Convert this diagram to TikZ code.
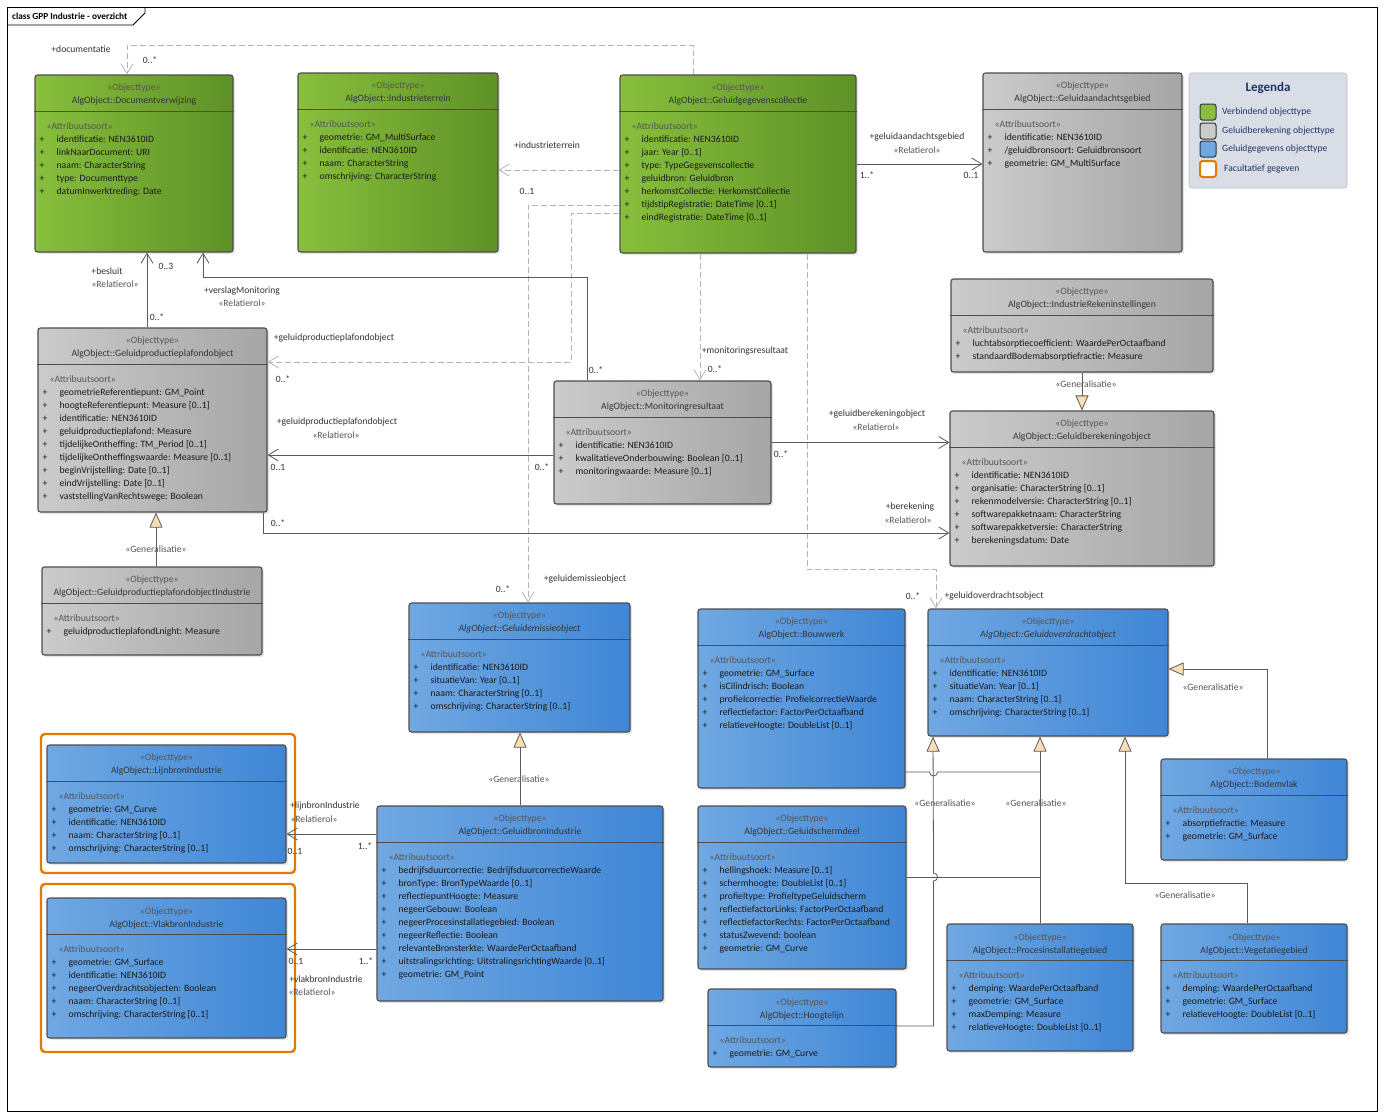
\documentclass[tikz,border=0pt]{standalone}
\usepackage{fontspec}
\setmainfont{Carlito}
\usetikzlibrary{arrows.meta,fit,shadows}
\definecolor{groenL}{HTML}{88BF3C}
\definecolor{groenR}{HTML}{5E9127}
\definecolor{grijsL}{HTML}{CBCBCB}
\definecolor{grijsR}{HTML}{A6A6A6}
\definecolor{blauwL}{HTML}{70A8E2}
\definecolor{blauwR}{HTML}{3F86D6}
\definecolor{rand}{HTML}{4D4D4D}
\definecolor{lijn}{HTML}{5A5A5A}
\definecolor{streep}{HTML}{B4B4B4}
\definecolor{genvul}{HTML}{FBDDB4}
\definecolor{oranje}{HTML}{E07B00}
\definecolor{legvul}{HTML}{D9DDE6}
\definecolor{legtekst}{HTML}{1F3468}
\definecolor{stereokleur}{HTML}{555555}
\newcommand{\stereo}[1]{\textcolor{stereokleur}{#1}}
\newcommand{\klasse}[6]{%
  \node[#1, fit={#3 #4}] (#2) {};
  \draw[kopstreep] ([yshift=-37pt]#2.north west) -- ([yshift=-37pt]#2.north east);
  \node[kop] (#2-kop) at ([yshift=-20.5pt]#2.north) {\stereo{«Objecttype»}\\#5};
  \node[attr] (#2-attr) at ([xshift=5pt,yshift=-45.5pt]#2.north west) {\begin{tabular}{@{}p{17pt}@{}l@{}}\multicolumn{2}{@{\hspace{7pt}}l@{}}{\stereo{«Attribuutsoort»}}\\#6\end{tabular}};
}

\begin{document}
\begin{tikzpicture}[x=1pt,y=-1pt,
  klasse/.style={draw=rand, line width=1.1pt, rounded corners=2.5pt, inner sep=0pt,
    drop shadow={shadow xshift=2pt,shadow yshift=-2pt,opacity=0.2}},
  groen/.style={klasse, left color=groenL, right color=groenR},
  grijs/.style={klasse, left color=grijsL, right color=grijsR},
  blauw/.style={klasse, left color=blauwL, right color=blauwR},
  kopstreep/.style={draw=rand, line width=1.3pt},
  kop/.style={align=center, inner sep=0pt, font=\fontsize{9.7}{13}\selectfont, text=black!80},
  attr/.style={anchor=north west, inner sep=0pt, font=\fontsize{9.7}{13}\selectfont, text=black!90},
  lbl/.style={inner sep=0pt, font=\fontsize{9.6}{12}\selectfont, text=black!80},
  rol/.style={lbl, text=stereokleur},
  assoc/.style={draw=lijn, line width=0.8pt, -{Straight Barb[length=10pt,width=12pt]}},
  afh/.style={draw=streep, line width=0.8pt, dash pattern=on 6pt off 3pt, -{Straight Barb[length=10pt,width=12pt]}},
  gen/.style={draw=lijn, line width=0.8pt, -{Triangle[length=15pt,width=13pt,fill=genvul]}},
  genlijn/.style={draw=lijn, line width=0.8pt},
  facultatief/.style={draw=oranje, line width=2.4pt, rounded corners=4pt, inner sep=0pt},
  swatch/.style={minimum size=16pt, inner sep=0pt, rounded corners=2.5pt, draw=black!80, line width=1pt},
  legitem/.style={anchor=west, inner sep=0pt, font=\fontsize{9.6}{12}\selectfont, text=legtekst}]
\useasboundingbox (0,0) rectangle (1383,1117);
\fill[white] (0,0) rectangle (1383,1117);
\draw[black, line width=0.8pt] (7,7) rectangle (1377,1111);
\draw[black, line width=0.8pt] (7,25) -- (133,25) -- (145,13) -- (145,7);
\node[anchor=west, inner sep=0pt, font=\fontsize{9.3}{11}\selectfont\bfseries] (titel) at (12,16) {class GPP Industrie - overzicht};

\node[facultatief, fit={(41,734) (295,873)}] (opt-lijnbron) {};
\node[facultatief, fit={(41,884) (295,1052)}] (opt-vlakbron) {};

\klasse{groen}{docverw}{(35,75)}{(233,252)}{AlgObject::Documentverwijzing}{+ & identificatie: NEN3610ID\\ + & linkNaarDocument: URI\\ + & naam: CharacterString\\ + & type: Documenttype\\ + & datumInwerktreding: Date}
\klasse{groen}{indterrein}{(298,73)}{(498,252)}{AlgObject::Industrieterrein}{+ & geometrie: GM\_MultiSurface\\ + & identificatie: NEN3610ID\\ + & naam: CharacterString\\ + & omschrijving: CharacterString}
\klasse{groen}{gegcoll}{(620,75)}{(856,253)}{AlgObject::Geluidgegevenscollectie}{+ & identificatie: NEN3610ID\\ + & jaar: Year [0..1]\\ + & type: TypeGegevenscollectie\\ + & geluidbron: Geluidbron\\ + & herkomstCollectie: HerkomstCollectie\\ + & tijdstipRegistratie: DateTime [0..1]\\ + & eindRegistratie: DateTime [0..1]}
\klasse{grijs}{aandacht}{(983,73)}{(1182,252)}{AlgObject::Geluidaandachtsgebied}{+ & identificatie: NEN3610ID\\ + & /geluidbronsoort: Geluidbronsoort\\ + & geometrie: GM\_MultiSurface}
\klasse{grijs}{gpp}{(38,328)}{(267,512)}{AlgObject::Geluidproductieplafondobject}{+ & geometrieReferentiepunt: GM\_Point\\ + & hoogteReferentiepunt: Measure [0..1]\\ + & identificatie: NEN3610ID\\ + & geluidproductieplafond: Measure\\ + & tijdelijkeOntheffing: TM\_Period [0..1]\\ + & tijdelijkeOntheffingswaarde: Measure [0..1]\\ + & beginVrijstelling: Date [0..1]\\ + & eindVrijstelling: Date [0..1]\\ + & vaststellingVanRechtswege: Boolean}
\klasse{grijs}{gppind}{(42,567)}{(262,655)}{AlgObject::GeluidproductieplafondobjectIndustrie}{+ & geluidproductieplafondLnight: Measure}
\klasse{grijs}{monitoring}{(554,381)}{(771,504)}{AlgObject::Monitoringresultaat}{+ & identificatie: NEN3610ID\\ + & kwalitatieveOnderbouwing: Boolean [0..1]\\ + & monitoringwaarde: Measure [0..1]}
\klasse{grijs}{rekeninst}{(951,279)}{(1213,372)}{AlgObject::IndustrieRekeninstellingen}{+ & luchtabsorptiecoefficient: WaardePerOctaafband\\ + & standaardBodemabsorptiefractie: Measure}
\klasse{grijs}{berekening}{(950,411)}{(1214,566)}{AlgObject::Geluidberekeningobject}{+ & identificatie: NEN3610ID\\ + & organisatie: CharacterString [0..1]\\ + & rekenmodelversie: CharacterString [0..1]\\ + & softwarepakketnaam: CharacterString\\ + & softwarepakketversie: CharacterString\\ + & berekeningsdatum: Date}
\klasse{blauw}{emissie}{(409,603)}{(630,732)}{\textit{AlgObject::Geluidemissieobject}}{+ & identificatie: NEN3610ID\\ + & situatieVan: Year [0..1]\\ + & naam: CharacterString [0..1]\\ + & omschrijving: CharacterString [0..1]}
\klasse{blauw}{bouwwerk}{(698,609)}{(905,788)}{AlgObject::Bouwwerk}{+ & geometrie: GM\_Surface\\ + & isCilindrisch: Boolean\\ + & profielcorrectie: ProfielcorrectieWaarde\\ + & reflectiefactor: FactorPerOctaafband\\ + & relatieveHoogte: DoubleList [0..1]}
\klasse{blauw}{overdracht}{(928,609)}{(1168,736)}{\textit{AlgObject::Geluidoverdrachtobject}}{+ & identificatie: NEN3610ID\\ + & situatieVan: Year [0..1]\\ + & naam: CharacterString [0..1]\\ + & omschrijving: CharacterString [0..1]}
\klasse{blauw}{bodemvlak}{(1161,759)}{(1347,860)}{AlgObject::Bodemvlak}{+ & absorptiefractie: Measure\\ + & geometrie: GM\_Surface}
\klasse{blauw}{scherm}{(698,806)}{(906,969)}{AlgObject::Geluidschermdeel}{+ & hellingshoek: Measure [0..1]\\ + & schermhoogte: DoubleList [0..1]\\ + & profieltype: ProfieltypeGeluidscherm\\ + & reflectiefactorLinks: FactorPerOctaafband\\ + & reflectiefactorRechts: FactorPerOctaafband\\ + & statusZwevend: boolean\\ + & geometrie: GM\_Curve}
\klasse{blauw}{hoogtelijn}{(708,989)}{(896,1067)}{AlgObject::Hoogtelijn}{+ & geometrie: GM\_Curve}
\klasse{blauw}{procinst}{(947,924)}{(1133,1051)}{AlgObject::Procesinstallatiegebied}{+ & demping: WaardePerOctaafband\\ + & geometrie: GM\_Surface\\ + & maxDemping: Measure\\ + & relatieveHoogte: DoubleList [0..1]}
\klasse{blauw}{vegetatie}{(1161,924)}{(1347,1033)}{AlgObject::Vegetatiegebied}{+ & demping: WaardePerOctaafband\\ + & geometrie: GM\_Surface\\ + & relatieveHoogte: DoubleList [0..1]}
\klasse{blauw}{lijnbron}{(47,745)}{(286,863)}{AlgObject::LijnbronIndustrie}{+ & geometrie: GM\_Curve\\ + & identificatie: NEN3610ID\\ + & naam: CharacterString [0..1]\\ + & omschrijving: CharacterString [0..1]}
\klasse{blauw}{vlakbron}{(47,898)}{(286,1038)}{AlgObject::VlakbronIndustrie}{+ & geometrie: GM\_Surface\\ + & identificatie: NEN3610ID\\ + & negeerOverdrachtsobjecten: Boolean\\ + & naam: CharacterString [0..1]\\ + & omschrijving: CharacterString [0..1]}
\klasse{blauw}{bronind}{(377,806)}{(663,1001)}{AlgObject::GeluidbronIndustrie}{+ & bedrijfsduurcorrectie: BedrijfsduurcorrectieWaarde\\ + & bronType: BronTypeWaarde [0..1]\\ + & reflectiepuntHoogte: Measure\\ + & negeerGebouw: Boolean\\ + & negeerProcesinstallatiegebied: Boolean\\ + & negeerReflectie: Boolean\\ + & relevanteBronsterkte: WaardePerOctaafband\\ + & uitstralingsrichting: UitstralingsrichtingWaarde [0..1]\\ + & geometrie: GM\_Point}

\node[fill=legvul, draw=legvul!85!black, line width=0.6pt, rounded corners=3pt, inner sep=0pt, fit={(1189,73) (1347,188)}] (legenda) {};
\node[inner sep=0pt, font=\fontsize{13}{15}\selectfont\bfseries, text=legtekst] (legenda-titel) at (1268,88) {Legenda};
\node[swatch, fill=groenL] (sw-groen) at (1208,112) {};
\node[swatch, fill=grijsL] (sw-grijs) at (1208,131) {};
\node[swatch, fill=blauwL] (sw-blauw) at (1208,149) {};
\node[swatch, fill=white, draw=oranje, line width=2pt] (sw-oranje) at (1208,169) {};
\node[legitem] (lt-groen) at (1222,112) {Verbindend objecttype};
\node[legitem] (lt-grijs) at (1222,131) {Geluidberekening objecttype};
\node[legitem] (lt-blauw) at (1222,149) {Geluidgegevens objecttype};
\node[legitem] (lt-oranje) at (1224,169) {Facultatief gegeven};

\draw[afh] ([xshift=-45pt]gegcoll.north) -- ++(0,-29) -| ([xshift=-7pt]docverw.north);
\draw[afh] ([yshift=-6pt]gegcoll.west) -- ([yshift=-6pt]gegcoll.west -| indterrein.east);
\draw[afh] ([yshift=-49pt]gegcoll.west) -- ++(-48,0) |- ([yshift=58pt]gpp.east);
\draw[afh] ([yshift=-41pt]gegcoll.west) -| ([xshift=8.5pt]emissie.north);
\draw[afh] ([xshift=-38pt]gegcoll.south) -- ([xshift=-38pt]gegcoll.south |- monitoring.north);
\draw[afh] ([xshift=69pt]gegcoll.south) -- ++(0,316) -| ([xshift=-112pt]overdracht.north);
\draw[assoc] (gegcoll.east) -- (gegcoll.east -| aandacht.west);
\draw[assoc] ([xshift=-5.5pt]gpp.north) -- ([xshift=-5.5pt]gpp.north |- docverw.south);
\draw[assoc] ([xshift=-75.5pt]monitoring.north) -- ++(0,-103) -| ([xshift=69pt]docverw.south);
\draw[assoc] ([yshift=-12.5pt]monitoring.west) -- ([yshift=-12.5pt]monitoring.west -| gpp.east);
\draw[assoc] (monitoring.east) -- (monitoring.east -| berekening.west);
\draw[assoc] ([xshift=-4pt]gpp.south east) |- ([yshift=-44.5pt]berekening.west);
\draw[assoc] ([yshift=69.5pt]bronind.west) -- ([yshift=69.5pt]bronind.west -| lijnbron.east);
\draw[assoc] ([yshift=-45.5pt]bronind.west) -- ([yshift=-45.5pt]bronind.west -| vlakbron.east);
\draw[gen] ([xshift=4pt]gppind.north) -- ([xshift=4pt]gppind.north |- gpp.south);
\draw[gen] (rekeninst.south) -- (rekeninst.south |- berekening.north);
\draw[gen] (bronind.north) -- (bronind.north |- emissie.south);
\draw[gen] ([xshift=13pt]bodemvlak.north) |- ([yshift=3.5pt]overdracht.east);
\draw[gen] (procinst.north) -- (procinst.north |- overdracht.south);
\draw[genlijn] ([yshift=-73.5pt]bouwwerk.east) -- ++(24,0) arc[start angle=180,end angle=360,radius=4pt] -- ([yshift=-73.5pt]bouwwerk.east -| procinst.north);
\draw[genlijn] ([yshift=10.5pt]scherm.east) -- ([yshift=10.5pt]scherm.east -| procinst.north);
\draw[gen] ([yshift=2pt]hoogtelijn.east) -- ++(37,0) -- ++(0,-145) arc[start angle=-90,end angle=90,radius=4pt] -- ([xshift=-115pt]overdracht.south);
\draw[gen] ([xshift=-7pt]vegetatie.north) -- ++(0,-40) -| ([xshift=77pt]overdracht.south);

\node[lbl] (l-documentatie) at (81,49) {+documentatie};
\node[lbl] (m-documentatie) at (150,60) {0..*};
\node[lbl] (l-industrieterrein) at (547,145) {+industrieterrein};
\node[lbl] (m-industrieterrein) at (527,191) {0..1};
\node[lbl] (l-aandacht) at (917,137) {+geluidaandachtsgebied};
\node[rol] (r-aandacht) at (917,150) {«Relatierol»};
\node[lbl] (m-aandacht-a) at (867,175) {1..*};
\node[lbl] (m-aandacht-b) at (971,175) {0..1};
\node[lbl] (l-besluit) at (107,271) {+besluit};
\node[rol] (r-besluit) at (115,284) {«Relatierol»};
\node[lbl] (m-besluit-a) at (166,266) {0..3};
\node[lbl] (m-besluit-b) at (157,317) {0..*};
\node[lbl] (l-verslag) at (242,291) {+verslagMonitoring};
\node[rol] (r-verslag) at (242,303) {«Relatierol»};
\node[lbl] (m-verslag) at (596,370) {0..*};
\node[lbl] (l-gpp-a) at (334,338) {+geluidproductieplafondobject};
\node[lbl] (m-gpp-a) at (283,379) {0..*};
\node[lbl] (l-gpp-b) at (337,422) {+geluidproductieplafondobject};
\node[rol] (r-gpp-b) at (336,435) {«Relatierol»};
\node[lbl] (m-gpp-b1) at (278,467) {0..1};
\node[lbl] (m-gpp-b2) at (542,467) {0..*};
\node[lbl] (l-monres) at (745,351) {+monitoringsresultaat};
\node[lbl] (m-monres) at (715,369) {0..*};
\node[lbl] (l-berob) at (877,414) {+geluidberekeningobject};
\node[rol] (r-berob) at (876,427) {«Relatierol»};
\node[lbl] (m-berob) at (781,454) {0..*};
\node[lbl] (l-berek) at (910,507) {+berekening};
\node[rol] (r-berek) at (908,520) {«Relatierol»};
\node[lbl] (m-berek) at (278,523) {0..*};
\node[rol] (g-gpp) at (156,549) {«Generalisatie»};
\node[rol] (g-rekeninst) at (1086,384) {«Generalisatie»};
\node[lbl] (m-emissie) at (503,589) {0..*};
\node[lbl] (l-emissie) at (585,579) {+geluidemissieobject};
\node[lbl] (m-overdracht) at (913,596) {0..*};
\node[lbl] (l-overdracht) at (994,596) {+geluidoverdrachtsobject};
\node[rol] (g-bodemvlak) at (1213,687) {«Generalisatie»};
\node[rol] (g-bronind) at (519,779) {«Generalisatie»};
\node[rol] (g-hoogtelijn) at (945,803) {«Generalisatie»};
\node[rol] (g-procinst) at (1036,803) {«Generalisatie»};
\node[rol] (g-vegetatie) at (1185,895) {«Generalisatie»};
\node[lbl] (l-lijnbron) at (325,806) {+lijnbronIndustrie};
\node[rol] (r-lijnbron) at (314,819) {«Relatierol»};
\node[lbl] (m-lijnbron-a) at (295,851) {0..1};
\node[lbl] (m-lijnbron-b) at (365,846) {1..*};
\node[lbl] (m-vlakbron-a) at (296,961) {0..1};
\node[lbl] (m-vlakbron-b) at (366,961) {1..*};
\node[lbl] (l-vlakbron) at (326,979) {+vlakbronIndustrie};
\node[rol] (r-vlakbron) at (312,992) {«Relatierol»};
\end{tikzpicture}
\end{document}
